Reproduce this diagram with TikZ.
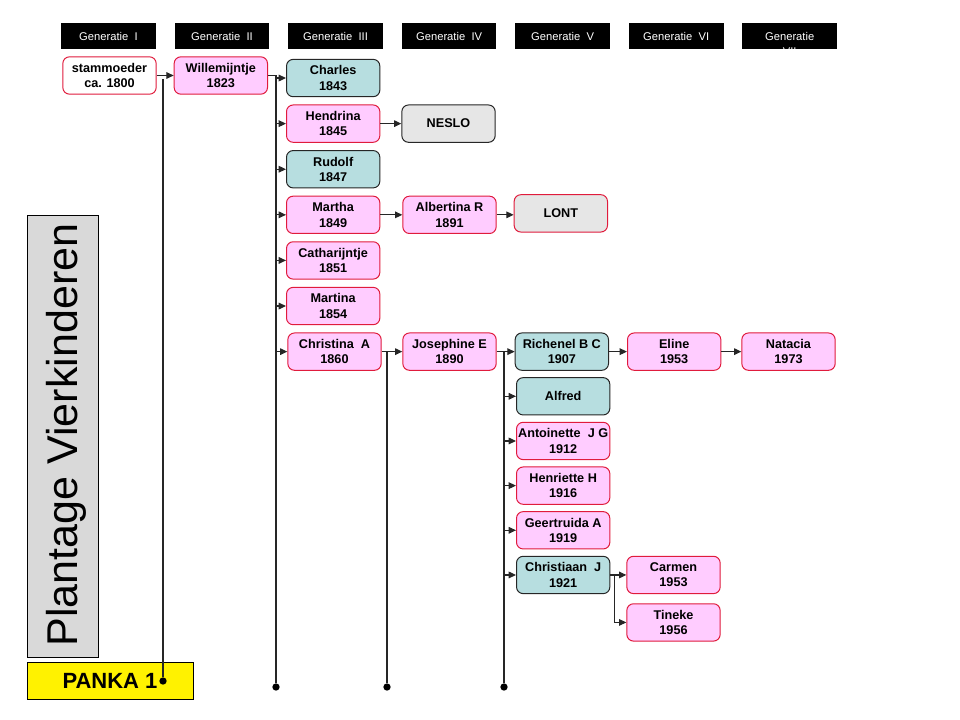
\documentclass[tikz,border=0pt]{standalone}
\usepackage{fontspec}
\setmainfont{Liberation Sans}
\usetikzlibrary{positioning,arrows.meta}
\definecolor{roze}{HTML}{FFCCFF}
\definecolor{rood}{HTML}{E01B3C}
\definecolor{blauw}{HTML}{B7DEE0}
\definecolor{grijs}{HTML}{E6E6E6}
\definecolor{titel}{HTML}{D9D9D9}
\tikzset{
  gen/.style={fill=black,text=white,minimum width=71pt,minimum height=19.5pt,inner sep=0pt,font=\fontsize{8.4}{10}\selectfont},
  pers/.style={rounded corners=5pt,line width=0.75pt,minimum width=70pt,minimum height=28pt,inner sep=0.5pt,align=center,font=\bfseries\fontsize{9.5}{11.5}\selectfont},
  NR/.style={pers,fill=roze,draw=rood},
  NB/.style={pers,fill=blauw,draw=black!85},
  NG/.style={pers,fill=grijs,draw=black!85},
  lijn/.style={line width=0.8pt,draw=black!85},
  pijl/.style={lijn,-{Triangle[length=5.5pt,width=5pt]}},
  punt/.style={circle,fill=black,inner sep=0pt,minimum size=5.5pt},
}
\begin{document}
\begin{tikzpicture}[x=0.75pt,y=-0.75pt,node distance=34.2pt]
% generaties
\node[gen](H1) at (108.5,36){Generatie~ I};
\node[gen,right=13.75pt of H1](H2){Generatie~ II};
\node[gen,right=13.75pt of H2](H3){Generatie~ III};
\node[gen,right=13.75pt of H3](H4){Generatie~ IV};
\node[gen,right=13.75pt of H4](H5){Generatie~ V};
\node[gen,right=13.75pt of H5](H6){Generatie~ VI};
\node[gen,right=13.75pt of H6](H7){};
\begin{scope}
\clip (H7.north west) rectangle (H7.south east);
\node[text=white,font=\fontsize{8.4}{10}\selectfont](H7a) at (H7.center){Generatie};
\node[text=white,font=\fontsize{8.4}{10}\selectfont](H7b) at ([yshift=-12pt]H7.center){VII};
\end{scope}
% personen
\node[pers,fill=white,draw=rood](NS) at (109.5,75.5){stammoeder\\ca. 1800};
\node[NR,right=12.75pt of NS](NW){Willemijntje\\1823};
\node[NB,right=13.5pt of NW,yshift=-1.9pt](N31){Charles\\1843};
\node[NR,below of = N31](N32){Hendrina\\1845};
\node[NB,below of = N32](N33){Rudolf\\1847};
\node[NR,below of = N33](N34){Martha\\1849};
\node[NR,below of = N34](N35){Catharijntje\\1851};
\node[NR,below of = N35](N36){Martina\\1854};
\node[NR,below of = N36,xshift=1pt](N37){Christina~ A\\1860};
\node[NG,right=15.75pt of N32](N41){NESLO};
\node[NR,right=16.5pt of N34](N42){Albertina R\\1891};
\node[pers,fill=grijs,draw=rood,right=12.75pt of N42,yshift=1.1pt](N51){LONT};
\node[NR,right=15.5pt of N37](N43){Josephine E\\1890};
\node[NB,right=13.5pt of N43](N52){Richenel B C\\1907};
\node[NB,below of = N52,yshift=0.7pt,xshift=1pt](N53){Alfred};
\node[NR,below of = N53,yshift=0.7pt](N54){Antoinette~ J G\\1912};
\node[NR,below of = N54,yshift=0.7pt](N55){Henriette H\\1916};
\node[NR,below of = N55,yshift=0.7pt](N56){Geertruida A\\1919};
\node[NB,below of = N56,yshift=0.7pt](N57){Christiaan~ J\\1921};
\node[NR,right=13.5pt of N52](N61){Eline\\1953};
\node[NR,right=15pt of N61](N71){Natacia\\1973};
\node[NR,right=12pt of N57](N62){Carmen\\1953};
\node[NR,below of = N62,yshift=-1.4pt](N63){Tineke\\1956};
% titel en plantage
\node[draw=black,fill=titel,line width=0.75pt,minimum width=53.25pt,minimum height=330.75pt](TB) at (62.5,436.5){};
\node[rotate=90,anchor=base,font=\fontsize{32.3}{36}\selectfont](TT) at (77.5,435){Plantage Vierkinderen};
\node[draw=black,fill=yellow,line width=0.75pt,minimum width=124.5pt,minimum height=27.75pt,font=\bfseries\fontsize{16.5}{20}\selectfont](PK) at (110,680.5){PANKA 1\hspace{4pt}};
\node[punt](DP) at (163,681){};
\node[punt](D1) at (276,687){};
\node[punt](D2) at (387,687){};
\node[punt](D3) at (504,687){};
% lijnen
\draw[pijl] (NS.east) -- (NW.west);
\draw[lijn] ([yshift=-3pt]NS.east -| DP) -- (DP);
\draw[lijn] (NW.east) -- (NW.east -| D1) -- (D1);
\draw[pijl] (N31.west -| D1) -- (N31.west);
\draw[pijl] (N32.west -| D1) -- (N32.west);
\draw[pijl] (N33.west -| D1) -- (N33.west);
\draw[pijl] (N34.west -| D1) -- (N34.west);
\draw[pijl] (N35.west -| D1) -- (N35.west);
\draw[pijl] (N36.west -| D1) -- (N36.west);
\draw[pijl] (N37.west -| D1) -- (N37.west);
\draw[pijl] (N32.east) -- (N41.west);
\draw[pijl] (N34.east) -- (N42.west);
\draw[pijl] (N42.east) -- (N42.east -| N51.west);
\draw[lijn] (N37.east) -- (N37.east -| D2) -- (D2);
\draw[pijl] (N43.west -| D2) -- (N43.west);
\draw[lijn] (N43.east) -- (N43.east -| D3) -- (D3);
\draw[pijl] (N52.west -| D3) -- (N52.west);
\draw[pijl] (N53.west -| D3) -- (N53.west);
\draw[pijl] (N54.west -| D3) -- (N54.west);
\draw[pijl] (N55.west -| D3) -- (N55.west);
\draw[pijl] (N56.west -| D3) -- (N56.west);
\draw[pijl] (N57.west -| D3) -- (N57.west);
\draw[pijl] (N52.east) -- (N61.west);
\draw[pijl] (N61.east) -- (N71.west);
\draw[pijl] (N57.east) -- ++(4,0) |- (N62.west);
\draw[pijl] (N57.east) -- ++(4,0) |- (N63.west);
\pgfresetboundingbox
\path[use as bounding box] (0,0) rectangle (960,720);
\end{tikzpicture}
\end{document}
